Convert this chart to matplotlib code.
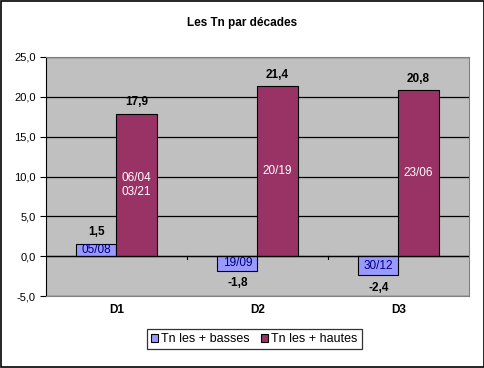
import matplotlib.pyplot as plt
import numpy as np

plt.rcParams['font.family'] = ['Liberation Sans', 'DejaVu Sans']

decades = ['D1', 'D2', 'D3']
tn_basses = [1.5, -1.8, -2.4]
tn_hautes = [17.9, 21.4, 20.8]
dates_basses = ['05/08', '19/09', '30/12']
dates_hautes = ['06/04\n03/21', '20/19', '23/06']
yticks = [-5, 0, 5, 10, 15, 20, 25]

fig = plt.figure(figsize=(4.85, 3.68), dpi=100)
fig.patch.set_facecolor('white')
# cadre noir autour du graphique
fig.add_artist(plt.Rectangle((0.002, 0.003), 0.995, 0.994, transform=fig.transFigure,
                             fill=False, edgecolor='black', linewidth=1.2))

ax = fig.add_axes([46 / 485, 1 - 296 / 368, 423 / 485, 239 / 368])
ax.set_facecolor('#C0C0C0')

x = np.arange(len(decades))
w = 0.284
b1 = ax.bar(x - w / 2, tn_basses, w, color='#9999FF', edgecolor='black', linewidth=0.8, zorder=3)
b2 = ax.bar(x + w / 2, tn_hautes, w, color='#993366', edgecolor='black', linewidth=0.8, zorder=3)

ax.set_xlim(-0.5, 2.5)
ax.set_ylim(-5, 25)
ax.set_yticks(yticks)
ax.set_yticklabels([('%.1f' % v).replace('.', ',') for v in yticks], fontsize=8)
ax.yaxis.grid(True, color='black', linewidth=0.9, zorder=1)
ax.set_axisbelow(True)
ax.tick_params(axis='y', length=4, width=0.8)

# axe des x a zero
ax.axhline(0, color='black', linewidth=0.9, zorder=4)
ax.set_xticks([])
for xb in [0.5, 1.5]:
    ax.plot([xb, xb], [0, -0.4], color='black', linewidth=0.8, zorder=4)
for i, d in enumerate(decades):
    ax.text(x[i], -6.8, d, ha='center', va='center', fontsize=8.5, fontweight='bold')

for s in ['top', 'right', 'bottom']:
    ax.spines[s].set_color('#808080')
ax.spines['left'].set_color('black')

# etiquettes des valeurs
for i in range(3):
    v = tn_basses[i]
    lab = ('%.1f' % v).replace('.', ',')
    if v >= 0:
        ax.text(x[i] - w / 2, v + 1.5, lab, ha='center', va='center', fontsize=8.5, fontweight='bold')
    else:
        ax.text(x[i] - w / 2, v - 1.6, lab, ha='center', va='center', fontsize=8.5, fontweight='bold')
    ax.text(x[i] - w / 2, v / 2, dates_basses[i], ha='center', va='center', fontsize=8.5,
            color='#000080', zorder=5)
    v = tn_hautes[i]
    ax.text(x[i] + w / 2, v + 1.4, ('%.1f' % v).replace('.', ','), ha='center', va='center',
            fontsize=8.5, fontweight='bold')
    ax.text(x[i] + w / 2, v / 2, dates_hautes[i], ha='center', va='center', fontsize=8.5,
            color='white', zorder=5, linespacing=1.2)

fig.text(0.5, 1 - 23 / 368, 'Les Tn par décades', ha='center', va='center', fontsize=8.5, fontweight='bold')

leg = fig.legend([b1, b2], ['Tn les + basses', 'Tn les + hautes'], loc='center',
                 bbox_to_anchor=(254 / 485, 1 - 339 / 368), ncol=2, fontsize=9,
                 frameon=True, fancybox=False, edgecolor='black', handlelength=0.6,
                 handleheight=0.6, handletextpad=0.2, columnspacing=0.9, borderpad=0.35)
leg.get_frame().set_linewidth(0.9)

fig.savefig('out.png', dpi=100)
